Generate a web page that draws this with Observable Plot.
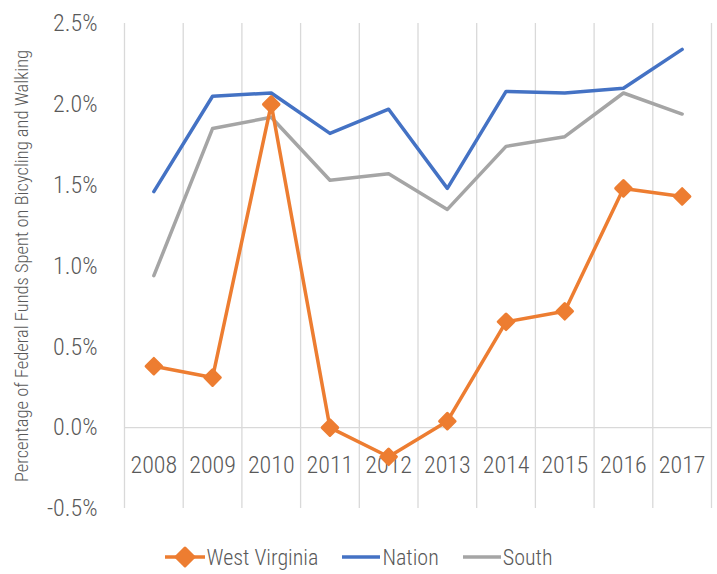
<!DOCTYPE html>
<html>
<head>
<meta charset="utf-8">
<script src="https://cdn.jsdelivr.net/npm/d3@7"></script>
<script src="https://cdn.jsdelivr.net/npm/@observablehq/plot@0.6"></script>
<style>
  html, body { margin: 0; padding: 0; background: #fff; }
  body { width: 717px; height: 574px; overflow: hidden; font-family: "Roboto Condensed", "Open Sans", sans-serif; font-stretch: 75%; font-weight: 300; color: #595959; }
  svg text { font-stretch: 75%; font-weight: 300; }
  #legend { display: flex; justify-content: center; align-items: center; height: 30px; margin-top: 12px; font-size: 22px; }
  #legend .item { display: flex; align-items: center; margin: 0 12px; }
  #legend svg { margin-right: 2px; }
</style>
</head>
<body>
<div id="chart"></div>
<div id="legend"></div>
<script>
const years = [2008, 2009, 2010, 2011, 2012, 2013, 2014, 2015, 2016, 2017];
const westVirginia = [0.38, 0.31, 2.00, 0.00, -0.18, 0.04, 0.655, 0.72, 1.48, 1.43];
const nation = [1.46, 2.05, 2.07, 1.82, 1.97, 1.48, 2.08, 2.07, 2.10, 2.34];
const south = [0.94, 1.85, 1.92, 1.53, 1.57, 1.35, 1.74, 1.80, 2.07, 1.94];
const yTicks = [-0.5, 0.0, 0.5, 1.0, 1.5, 2.0, 2.5];
const seriesNames = ["West Virginia", "Nation", "South"];
const seriesColors = ["#ED7D31", "#4472C4", "#A5A5A5"];
const yTitle = "Percentage of Federal Funds Spent on Bicycling and Walking";

const toRows = (vals) => years.map((y, i) => ({year: y, value: vals[i]}));
const wvRows = toRows(westVirginia);
const nationRows = toRows(nation);
const southRows = toRows(south);
const edges = years.map(y => y - 0.5).concat([years[years.length - 1] + 0.5]);

const fontFamily = '"Roboto Condensed", "Open Sans", sans-serif';

const chart = Plot.plot({
  width: 717,
  height: 530,
  marginTop: 23,
  marginBottom: 22,
  marginLeft: 124,
  marginRight: 6,
  style: {fontFamily, color: "#595959", background: "#fff"},
  x: {domain: [years[0] - 0.5, years[years.length - 1] + 0.5], axis: null},
  y: {domain: [-0.5, 2.5], axis: null},
  marks: [
    Plot.ruleX(edges, {stroke: "#d9d9d9", strokeWidth: 1.3}),
    Plot.ruleY([0], {stroke: "#d9d9d9", strokeWidth: 1.3}),
    Plot.axisY({ticks: yTicks, tickSize: 0, tickPadding: 27, fontSize: 24, fill: "#595959", label: null, tickFormat: d => d.toFixed(1) + "%"}),
    Plot.text(years, {x: d => d, y: () => 0, dy: 38, text: d => String(d), fontSize: 24, fill: "#595959"}),
    Plot.text([yTitle], {frameAnchor: "left", textAnchor: "middle", rotate: -90, dx: -102, fontSize: 18.5, fill: "#595959", text: d => d}),
    Plot.line(southRows, {x: "year", y: "value", stroke: seriesColors[2], strokeWidth: 3.5, strokeLinejoin: "round"}),
    Plot.line(nationRows, {x: "year", y: "value", stroke: seriesColors[1], strokeWidth: 3.5, strokeLinejoin: "round"}),
    Plot.line(wvRows, {x: "year", y: "value", stroke: seriesColors[0], strokeWidth: 3.5, strokeLinejoin: "round"}),
    Plot.dot(wvRows, {x: "year", y: "value", symbol: "diamond2", r: 7, fill: seriesColors[0], stroke: seriesColors[0], strokeWidth: 3, strokeLinejoin: "round"})
  ]
});
document.getElementById("chart").appendChild(chart);

const legend = document.getElementById("legend");
seriesNames.forEach((name, i) => {
  const item = document.createElement("div");
  item.className = "item";
  const marker = i === 0
    ? `<svg width="40" height="24"><line x1="0" y1="12" x2="40" y2="12" stroke="${seriesColors[i]}" stroke-width="3.5"/><path d="M20,3 L29,12 L20,21 L11,12 Z" fill="${seriesColors[i]}" stroke="${seriesColors[i]}" stroke-width="3" stroke-linejoin="round"/></svg>`
    : `<svg width="38" height="24"><line x1="0" y1="12" x2="38" y2="12" stroke="${seriesColors[i]}" stroke-width="3.5"/></svg>`;
  item.innerHTML = marker + `<span>${name}</span>`;
  legend.appendChild(item);
});
</script>
</body>
</html>
